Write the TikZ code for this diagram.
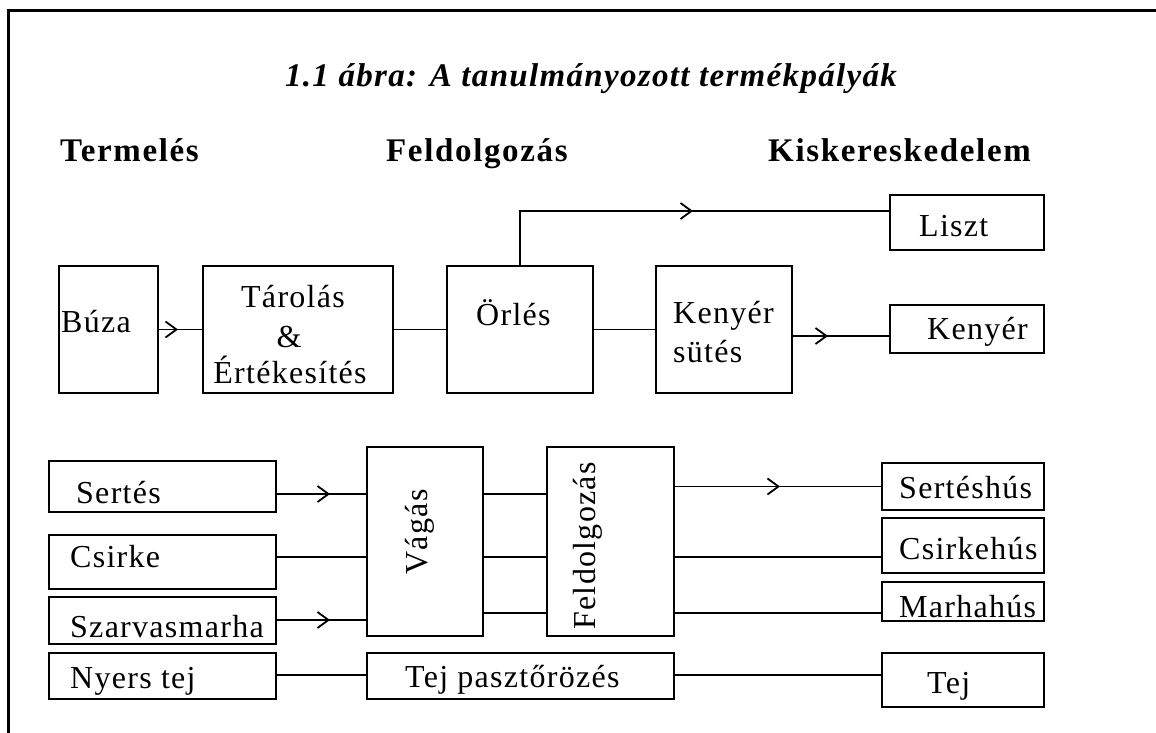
\documentclass[tikz,border=0pt]{standalone}
\usepackage{fontspec}
\setmainfont{Liberation Serif}
\newfontfamily\bxf[LetterSpace=4]{Liberation Serif}
\newfontfamily\hdf[LetterSpace=5]{Liberation Serif}
\newfontfamily\ttf[LetterSpace=4]{Liberation Serif}
\usetikzlibrary{arrows.meta,decorations.markings}
\begin{document}
\begin{tikzpicture}[x=1pt,y=-1pt,
  bx/.style={draw,line width=1.8pt,inner sep=0pt,outer sep=0pt},
  lbl/.style={inner sep=0pt,font=\bxf\fontsize{32}{38}\selectfont},
  hd/.style={inner sep=0pt,anchor=base west,font=\hdf\bfseries\fontsize{33}{38}\selectfont},
  ln/.style={line width=1.8pt},
  midarr/.style={postaction={decorate},decoration={markings,mark=at position #1 with {\arrow{Straight Barb[length=11pt,width=16pt,line width=1.8pt]}}}}
]
\useasboundingbox (0,0) rectangle (1156,733);
% frame
\draw[line width=3pt] (8,740) -- (8,11) -- (1160,11);

% title and headings
\node[inner sep=0pt,anchor=base,font=\ttf\bfseries\itshape\fontsize{33}{40}\selectfont] (title) at (591,87) {1.1 ábra: A tanulmányozott termékpályák};
\node[hd] (hTerm) at (60,161) {Termelés};
\node[hd] (hFeld) at (386,161) {Feldolgozás};
\node[hd] (hKisk) at (768,161) {Kiskereskedelem};

% boxes: wheat chain
\node[bx,minimum width=99pt,minimum height=127pt] (buza) at (108.5,329.5) {};
\node[bx,minimum width=190pt,minimum height=127pt] (tarolas) at (298,329.5) {};
\node[bx,minimum width=146pt,minimum height=127pt] (orles) at (520,329.5) {};
\node[bx,minimum width=136pt,minimum height=127pt] (ksutes) at (724,329.5) {};
\node[bx,minimum width=154pt,minimum height=55pt] (liszt) at (967,222.5) {};
\node[bx,minimum width=154pt,minimum height=48pt] (kenyer) at (967,329) {};

% boxes: meat and milk
\node[bx,minimum width=227pt,minimum height=51pt] (sertes) at (162.5,486.5) {};
\node[bx,minimum width=227pt,minimum height=54pt] (csirke) at (162.5,562) {};
\node[bx,minimum width=227pt,minimum height=47pt] (szarvas) at (162.5,620.5) {};
\node[bx,minimum width=227pt,minimum height=46pt] (nyers) at (162.5,676) {};
\node[bx,minimum width=116pt,minimum height=189pt] (vagas) at (425,541.5) {};
\node[bx,minimum width=127pt,minimum height=189pt] (feld) at (610.5,541.5) {};
\node[bx,minimum width=307pt,minimum height=46pt] (tejp) at (520.5,676) {};
\node[bx,minimum width=162pt,minimum height=47pt] (sh) at (963,486.5) {};
\node[bx,minimum width=162pt,minimum height=55pt] (csh) at (963,545.5) {};
\node[bx,minimum width=162pt,minimum height=39pt] (mh) at (963,601.5) {};
\node[bx,minimum width=162pt,minimum height=54pt] (tej) at (963,680) {};

% texts
\node[lbl,anchor=base west] (tBuza) at (61,332) {Búza};
\node[lbl,anchor=base] (tTar1) at (293,307) {Tárolás};
\node[lbl,anchor=base] (tTar2) at (289,347) {\&};
\node[lbl,anchor=base] (tTar3) at (290,383) {Értékesítés};
\node[lbl,anchor=base west] (tOrles) at (476,325) {Örlés};
\node[lbl,anchor=base west] (tKs1) at (673,323) {Kenyér};
\node[lbl,anchor=base west] (tKs2) at (673,362) {sütés};
\node[lbl,anchor=base west] (tLiszt) at (919,236) {Liszt};
\node[lbl,anchor=base west] (tKenyer) at (927,339) {Kenyér};
\node[lbl,anchor=base west] (tSertes) at (76,503) {Sertés};
\node[lbl,anchor=base west] (tCsirke) at (70,567) {Csirke};
\node[lbl,anchor=base west] (tSzarvas) at (70,637) {Szarvasmarha};
\node[lbl,anchor=base west] (tNyers) at (70,688) {Nyers tej};
\node[lbl,rotate=90] (tVagas) at (420,532) {Vágás};
\node[lbl,rotate=90] (tFeld) at (588,546) {Feldolgozás};
\node[lbl,anchor=base west] (tTejp) at (405,687) {Tej pasztőrözés};
\node[lbl,anchor=base west] (tSh) at (899,498) {Sertéshús};
\node[lbl,anchor=base west] (tCsh) at (899,559) {Csirkehús};
\node[lbl,anchor=base west] (tMh) at (899,617) {Marhahús};
\node[lbl,anchor=base west] (tTej) at (927,693) {Tej};

% line levels
\coordinate (yS) at (0,494);
\coordinate (yC) at (0,557);
\coordinate (yM) at (0,620);
\coordinate (yM2) at (0,613);
\coordinate (yT) at (0,675);
\coordinate (yL) at (0,211);
\coordinate (yK) at (0,336);

% connectors
\draw[ln,midarr=20pt] (buza.east) -- (tarolas.west);
\draw[ln] (tarolas.east) -- (orles.west);
\draw[ln] (orles.east) -- (ksutes.west);
\draw[ln,midarr=228pt] (orles.north) |- (liszt.west |- yL);
\draw[ln,midarr=36pt] (ksutes.east |- yK) -- (kenyer.west |- yK);
\draw[ln,midarr=54pt] (sertes.east |- yS) -- (vagas.west |- yS);
\draw[ln] (csirke.east |- yC) -- (vagas.west |- yC);
\draw[ln,midarr=54pt] (szarvas.east |- yM) -- (vagas.west |- yM);
\draw[ln] (vagas.east |- yS) -- (feld.west |- yS);
\draw[ln] (vagas.east |- yC) -- (feld.west |- yC);
\draw[ln] (vagas.east |- yM2) -- (feld.west |- yM2);
\draw[ln,midarr=106pt] (feld.east |- sh.west) -- (sh.west);
\draw[ln] (feld.east |- yC) -- (csh.west |- yC);
\draw[ln] (feld.east |- yM2) -- (mh.west |- yM2);
\draw[ln] (nyers.east |- yT) -- (tejp.west |- yT);
\draw[ln] (tejp.east |- yT) -- (tej.west |- yT);
\end{tikzpicture}
\end{document}
